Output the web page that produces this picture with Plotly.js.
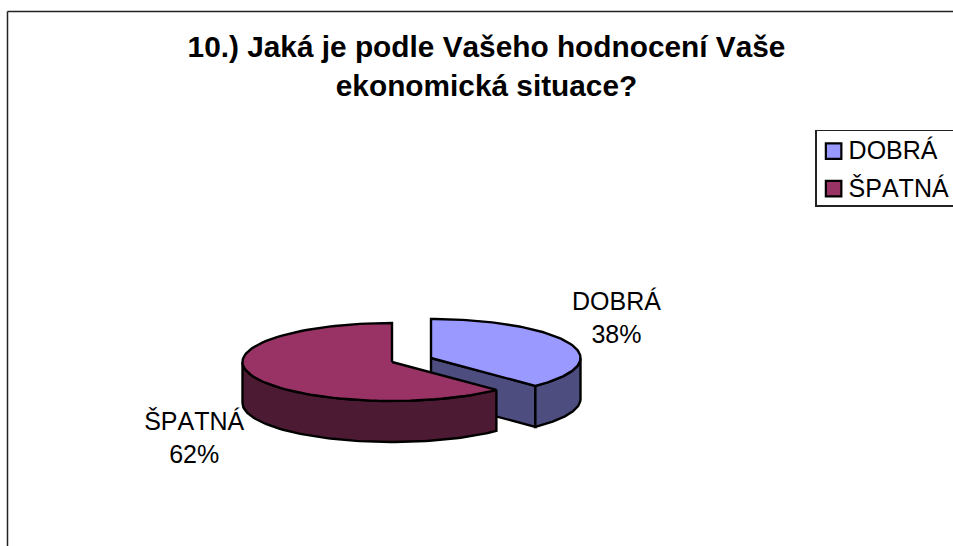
<!DOCTYPE html>
<html>
<head>
<meta charset="utf-8">
<script src="https://cdn.plot.ly/plotly-3.0.1.min.js"></script>
<style>html,body{margin:0;padding:0;background:#fff}#chart{width:953px;height:546px}#chart text{font-kerning:none}</style>
</head>
<body>
<div id="chart"></div>
<script>
const categories = ["DOBRÁ", "ŠPATNÁ"];
const values = [37.7, 62.3];
const topColors = ["#9999ff", "#993366"];
const wallColors = ["#4d4d80", "#4d1a33"];
const titleLines = ["10.) Jaká je podle Vašeho hodnocení Vaše", "ekonomická situace?"];

const FONT = '"Liberation Sans", Arial, sans-serif';
const RX = 149.5, RY = 39, DEPTH = 41;
const centers = [{x: 431, y: 358}, {x: 392, y: 362}];
const labelPos = [{x: 616.3, y: 317.8}, {x: 194, y: 437.5}];

const total = values.reduce((a, b) => a + b, 0);
const STEPS = 90;

function pt(c, deg, dy) {
  const r = deg * Math.PI / 180;
  return [c.x + RX * Math.sin(r), c.y - RY * Math.cos(r) + (dy || 0)];
}
function arc(c, a0, a1, dy) {
  const out = [];
  for (let i = 0; i <= STEPS; i++) out.push(pt(c, a0 + (a1 - a0) * i / STEPS, dy));
  return out;
}
function poly(points, fill) {
  return {
    type: "scatter", mode: "lines", fill: "toself", fillcolor: fill,
    x: points.map(p => p[0]), y: points.map(p => p[1]),
    line: {color: "#000", width: 2.4, shape: "linear"},
    hoverinfo: "skip", showlegend: false
  };
}

const traces = [];
let start = 0;
const spans = values.map(v => {
  const s = {a0: start, a1: start + v / total * 360};
  start = s.a1;
  return s;
});

{
  const c = centers[0], s = spans[0];
  const edge = pt(c, s.a1), edgeLow = pt(c, s.a1, DEPTH);
  traces.push(poly([[c.x, c.y], edge, edgeLow, [c.x, c.y + DEPTH], [c.x, c.y]], wallColors[0]));
  const lo = 90;
  traces.push(poly(arc(c, lo, s.a1).concat(arc(c, s.a1, lo, DEPTH)).concat([pt(c, lo)]), wallColors[0]));
  traces.push(poly([[c.x, c.y]].concat(arc(c, s.a0, s.a1)).concat([[c.x, c.y]]), topColors[0]));
}
{
  const c = centers[1], s = spans[1];
  const lo = s.a0, hi = 270;
  traces.push(poly(arc(c, lo, hi).concat(arc(c, hi, lo, DEPTH)).concat([pt(c, lo)]), wallColors[1]));
  traces.push(poly([[c.x, c.y]].concat(arc(c, s.a0, s.a1)).concat([[c.x, c.y]]), topColors[1]));
}
categories.forEach((name, i) => traces.push({
  type: "scatter", mode: "markers", name: name, legendgroup: name, x: [null], y: [null],
  marker: {symbol: "square", size: 15.5, color: topColors[i], line: {color: "#000", width: 2.2}},
  hoverinfo: "skip"
}));

const layout = {
  width: 953, height: 546,
  margin: {l: 0, r: 0, t: 0, b: 0, autoexpand: false},
  paper_bgcolor: "#fff", plot_bgcolor: "#fff",
  font: {family: FONT, color: "#000", size: 25},
  title: {
    text: titleLines.join("<br>"),
    font: {family: FONT, size: 29.8, color: "#000", weight: "bold"},
    x: 486.5 / 953, xref: "paper", xanchor: "center",
    y: 0.895, yref: "container", yanchor: "top"
  },
  xaxis: {visible: false, range: [0, 953], fixedrange: true},
  yaxis: {visible: false, range: [546, 0], fixedrange: true},
  showlegend: true,
  legend: {
    x: 812.4 / 953, y: 1 - 127.2 / 546, xanchor: "left", yanchor: "top",
    bgcolor: "#fff", bordercolor: "#222", borderwidth: 1.2, tracegroupgap: 2,
    font: {family: FONT, size: 25, color: "#000"},
    itemclick: false, itemdoubleclick: false
  },
  annotations: categories.map((name, i) => ({
    x: labelPos[i].x, y: labelPos[i].y, xref: "x", yref: "y",
    text: name + "<br>" + Math.round(values[i]) + "%", showarrow: false,
    font: {family: FONT, size: 25, color: "#000"}, align: "center"
  })),
  shapes: [
    {type: "line", xref: "x", yref: "y", x0: 7.5, x1: 953, y0: 11.5, y1: 11.5, line: {color: "#222", width: 1.5}},
    {type: "line", xref: "x", yref: "y", x0: 7.5, x1: 7.5, y0: 11.5, y1: 546, line: {color: "#222", width: 1.5}}
  ]
};

Plotly.newPlot("chart", traces, layout, {displayModeBar: false}).then(gd => {
  // Tighter swatch-to-text gap, and a box that runs off the right edge, as in the reference.
  gd.querySelectorAll(".legend .legendtext").forEach(t => {
    t.setAttribute("x", +t.getAttribute("x") - 5);
    t.setAttribute("y", +t.getAttribute("y") - 1.5);
  });
  const bg = gd.querySelector(".legend rect.bg");
  if (bg) {
    bg.setAttribute("x", 3.6);
    bg.setAttribute("width", 160);
    bg.setAttribute("y", 3.3);
    bg.setAttribute("height", 75.5);
  }
});
</script>
</body>
</html>
